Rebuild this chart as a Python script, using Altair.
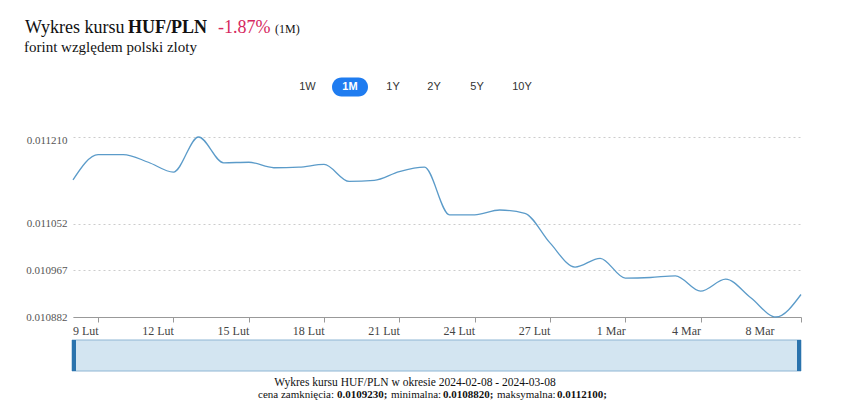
import altair as alt
import pandas as pd

# ---- data ----
dates = [d.strftime("%Y-%m-%d") for d in pd.date_range("2024-02-08", "2024-03-08", freq="D")]
rates = [
    0.011132, 0.011178, 0.011178, 0.011164, 0.011146, 0.011210, 0.011163, 0.011164,
    0.011154, 0.011155, 0.011160, 0.011129, 0.011131, 0.011147, 0.011155, 0.011068,
    0.011068, 0.011077, 0.011071, 0.011017, 0.010973, 0.010989, 0.010953, 0.010954,
    0.010957, 0.010929, 0.010951, 0.010917, 0.010882, 0.010923,
]
y_ticks = [0.010882, 0.010967, 0.011052, 0.011210]
x_tick_days = [(2, 9), (2, 12), (2, 15), (2, 18), (2, 21), (2, 24), (2, 27), (3, 1), (3, 4), (3, 8)]
buttons = ["1W", "1M", "1Y", "2Y", "5Y", "10Y"]

df = pd.DataFrame({"date": dates, "rate": rates})

W, H = 728, 180
OX, OY = 73, 137  # page position of plot origin
SERIF = "Liberation Serif"
SANS = "Liberation Sans"

x_scale = alt.Scale(
    type="utc",
    domain=[alt.DateTime(year=2024, month=2, date=8, utc=True),
            alt.DateTime(year=2024, month=3, date=8, utc=True)],
)
y_scale = alt.Scale(domain=[0.010882, 0.011210], nice=False, zero=False)

line = alt.Chart(df).mark_line(
    interpolate="monotone", color="#5b9bc9", strokeWidth=1.3
).encode(
    x=alt.X("date:T", scale=x_scale, axis=alt.Axis(
        values=[alt.DateTime(year=2024, month=m, date=d, utc=True) for m, d in x_tick_days],
        labelExpr="utcdate(datum.value) + (utcmonth(datum.value) == 1 ? ' Lut' : ' Mar')",
        labelAlign="right",
        labelOffset={"condition": {"test": "utcdate(datum.value) == 8", "value": -27}, "value": 0},
        labelFont=SERIF, labelFontSize=12, labelColor="#444",
        labelPadding=3, labelFlush=False, labelOverlap=False,
        tickSize=5, tickColor="#999", domainColor="#999",
        grid=False, title=None,
    )),
    y=alt.Y("rate:Q", scale=y_scale, axis=alt.Axis(
        values=y_ticks, format=".6f",
        labelFont=SERIF, labelFontSize=11, labelColor="#555", labelPadding=6,
        labelOffset={"condition": {"test": "datum.value > 0.0112", "value": 3}, "value": 0},
        domain=False, ticks=False,
        grid=True, gridColor="#cccccc", gridDash=[2, 3], gridWidth=1,
        title=None,
    )),
)


def txt(text, x, y, size, font=SERIF, weight="normal", color="#111", align="left", baseline="alphabetic"):
    return alt.Chart(pd.DataFrame({"t": [text]})).mark_text(
        font=font, fontSize=size, fontWeight=weight, color=color, align=align, baseline=baseline
    ).encode(text="t:N", x=alt.value(x - OX), y=alt.value(y - OY))


layers = [line]

# title block
layers += [
    txt("Wykres kursu", 25, 33, 18),
    txt("HUF/PLN", 128, 33, 18, weight="bold"),
    txt("-1.87%", 218, 33, 18, color="#d6285e"),
    txt("(1M)", 275, 33, 12),
    txt("forint względem polski zloty", 24, 52, 15),
]

# range buttons
pill = alt.Chart(pd.DataFrame({"a": [0]})).mark_rect(color="#1f7cf0", cornerRadius=10).encode(
    x=alt.value(332 - OX), x2=alt.value(368 - OX), y=alt.value(77.5 - OY), y2=alt.value(96.5 - OY)
)
layers.append(pill)
btn_x = [307.5, 350, 393, 434, 477, 522]
for b, bx in zip(buttons, btn_x):
    if b == "1M":
        layers.append(txt(b, bx, 87, 11, font=SANS, weight="bold", color="white", align="center", baseline="middle"))
    else:
        layers.append(txt(b, bx, 87, 11, font=SANS, color="#333", align="center", baseline="middle"))

# navigator
nav = alt.Chart(pd.DataFrame({"a": [0]})).mark_rect(
    fill="#d3e5f1", stroke="#8fb6d4", strokeWidth=1
).encode(x=alt.value(72 - OX), x2=alt.value(801 - OX), y=alt.value(340 - OY), y2=alt.value(371 - OY))
hl = alt.Chart(pd.DataFrame({"a": [0]})).mark_rect(fill="#2a73ad").encode(
    x=alt.value(72 - OX), x2=alt.value(76 - OX), y=alt.value(340 - OY), y2=alt.value(371 - OY))
hr = alt.Chart(pd.DataFrame({"a": [0]})).mark_rect(fill="#2a73ad").encode(
    x=alt.value(797 - OX), x2=alt.value(801 - OX), y=alt.value(340 - OY), y2=alt.value(371 - OY))
layers += [nav, hl, hr]

# caption
layers.append(txt("Wykres kursu HUF/PLN w okresie 2024-02-08 - 2024-03-08", 415, 383, 11.5,
                  color="#111", align="center", baseline="middle"))
cap = [
    ("cena zamknięcia:", 258, "normal"),
    ("0.0109230;", 337, "bold"),
    ("minimalna:", 391, "normal"),
    ("0.0108820;", 443, "bold"),
    ("maksymalna:", 497, "normal"),
    ("0.0112100;", 557, "bold"),
]
for t, cx, w in cap:
    layers.append(txt(t, cx, 395, 11, weight=w, color="#111", baseline="middle"))

chart = alt.layer(*layers).properties(
    width=W, height=H,
    padding={"left": 65, "top": 129, "right": 36, "bottom": 93},
    autosize="none",
).configure(background="white").configure_view(strokeWidth=0)

chart.save("out.html", embed_options={"renderer": "svg", "actions": False})
